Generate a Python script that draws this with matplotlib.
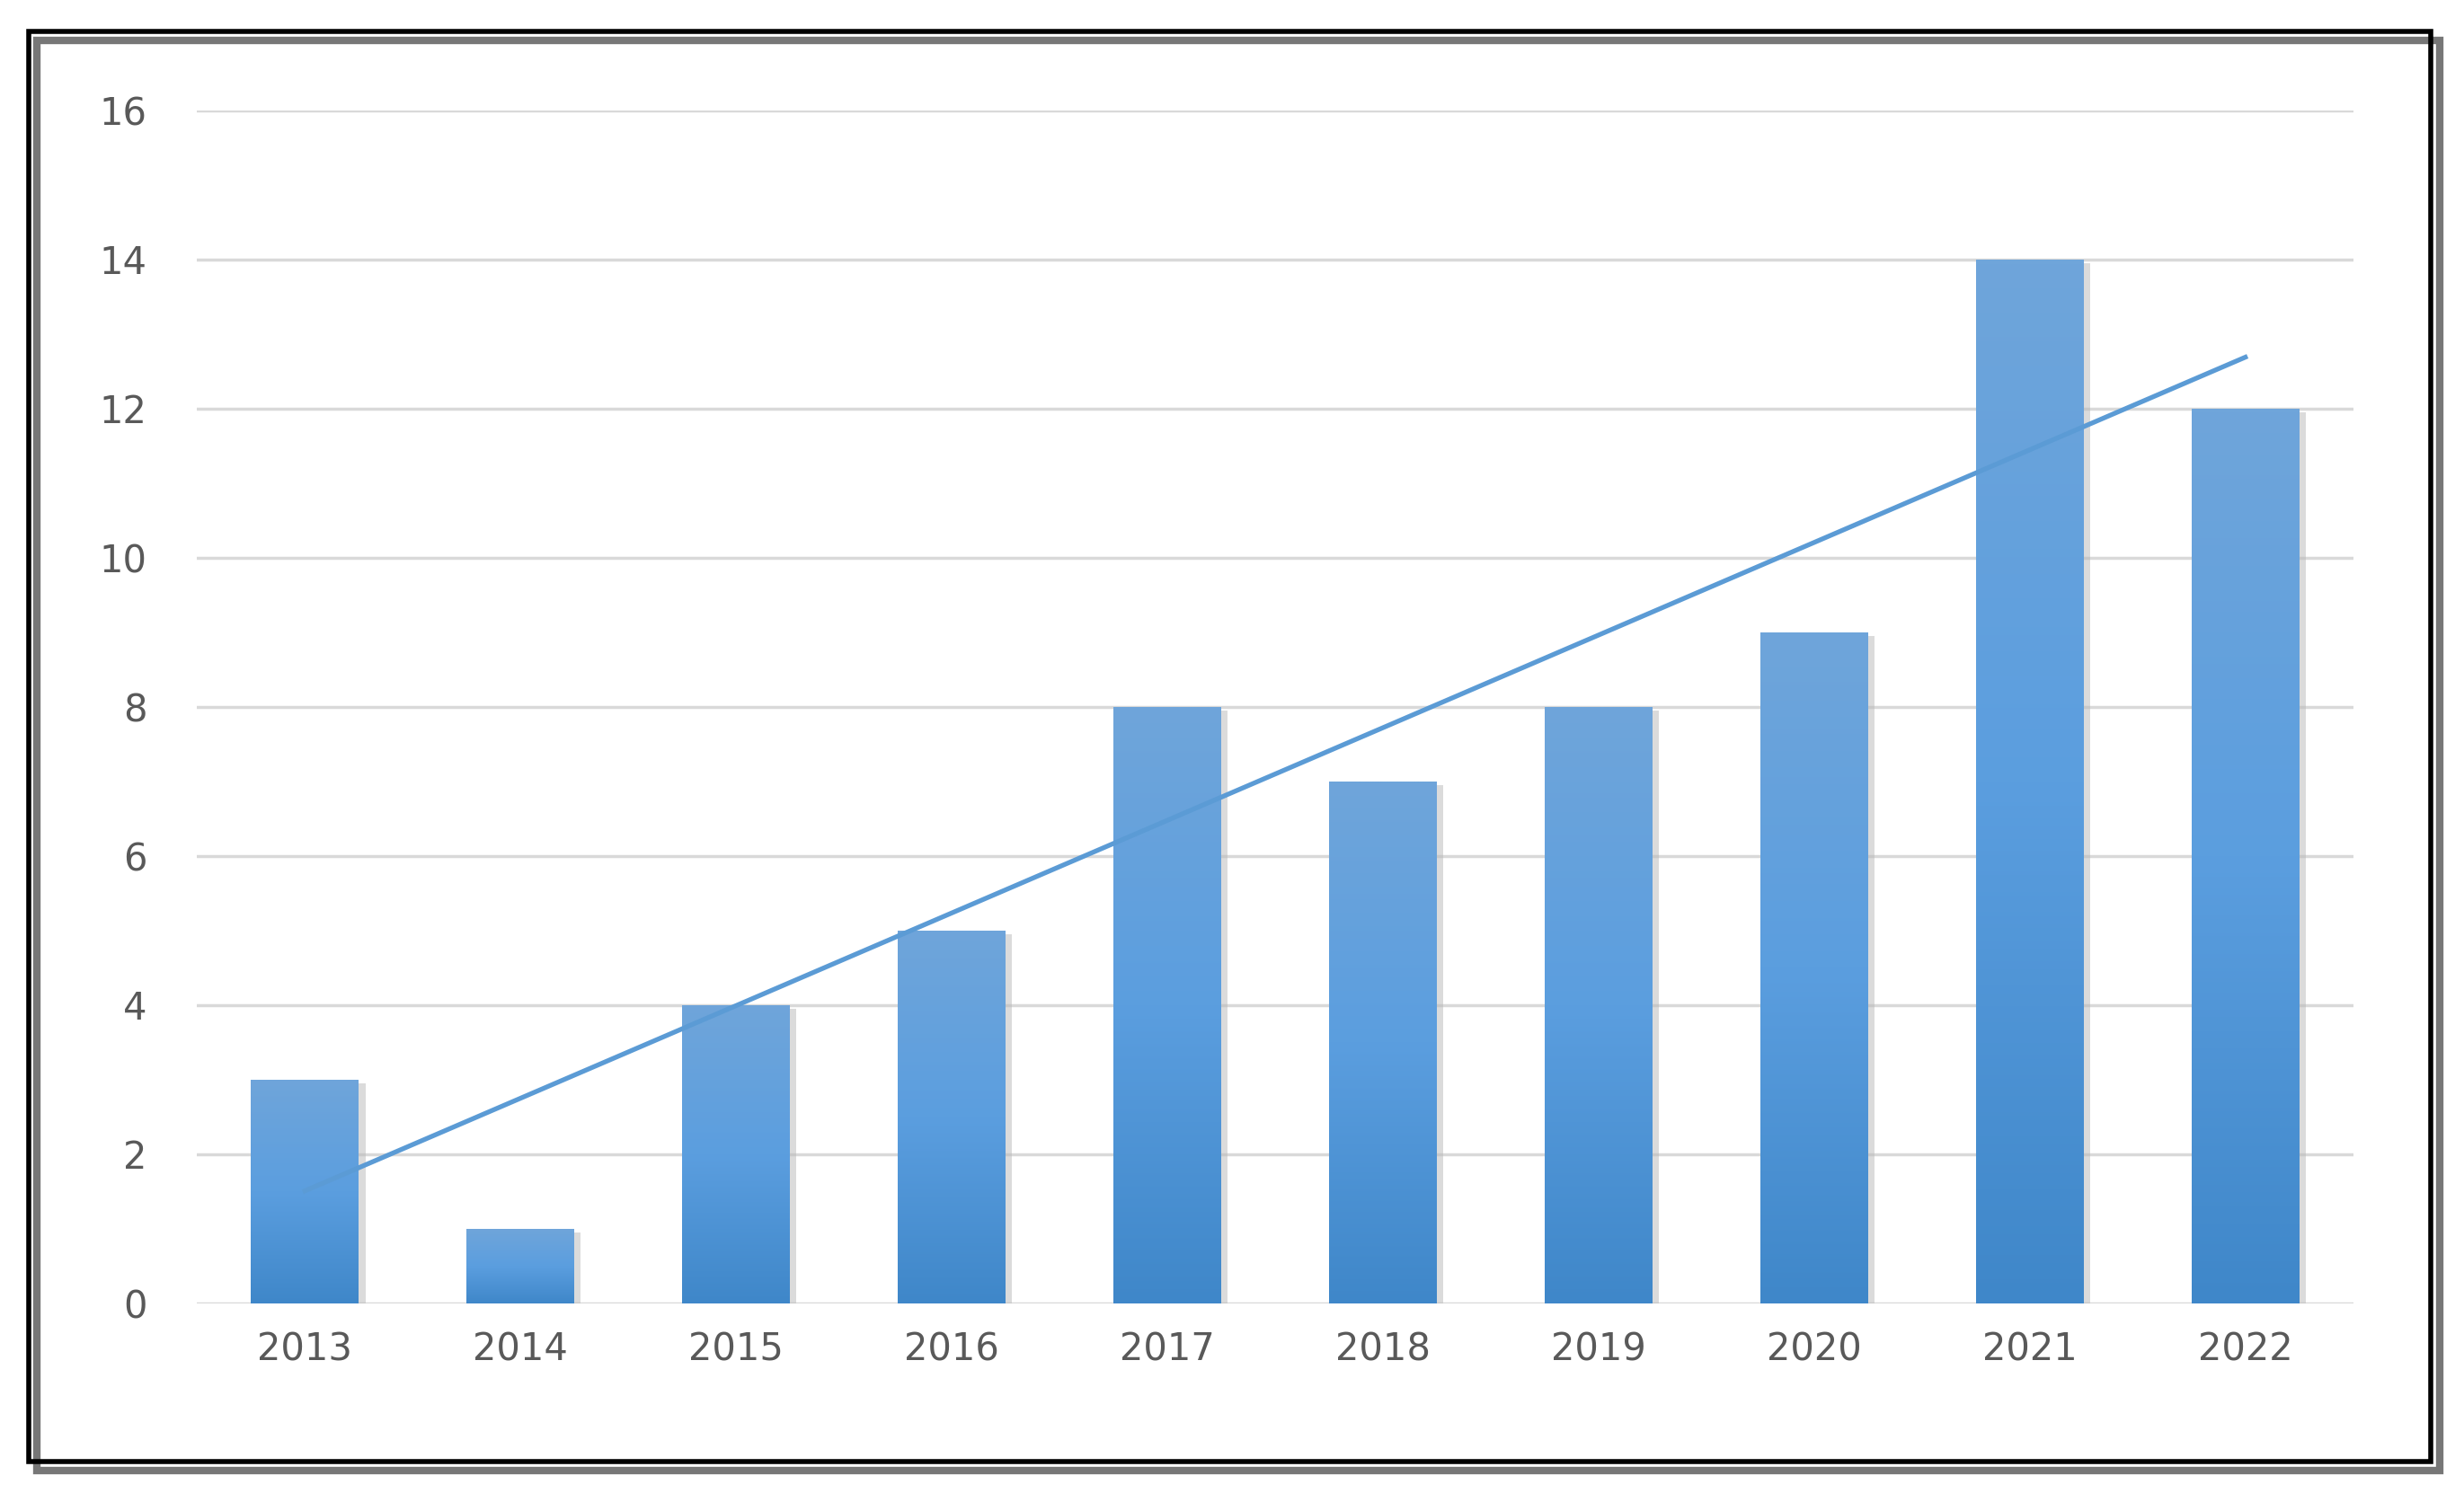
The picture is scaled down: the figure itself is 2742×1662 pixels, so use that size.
import matplotlib
matplotlib.use("Agg")
from matplotlib import pyplot as plt
from matplotlib.patches import Rectangle
import numpy as np

years = ["2013", "2014", "2015", "2016", "2017", "2018", "2019", "2020", "2021", "2022"]
counts = [3, 1, 4, 5, 8, 7, 8, 9, 14, 12]

fig = plt.figure(figsize=(27.42, 16.62), dpi=100)
ax = fig.add_axes([0.080, 0.127, 0.875, 0.799])

x = np.arange(len(years))
bars = ax.bar(x, counts, width=0.5, color="none", zorder=3)

# vertical gradient inside each bar, lighter at the top
grad = np.linspace(0, 1, 256).reshape(-1, 1)
cmap = matplotlib.colors.LinearSegmentedColormap.from_list("g", ["#3f87c9", "#5b9edf", "#6fa5da"])
for b in bars:
    bx, by = b.get_x(), b.get_y()
    w, h = b.get_width(), b.get_height()
    # soft shadow
    ax.add_patch(Rectangle((bx + 0.03, by), w, h - 0.05, color="#b8b8b8", alpha=0.5, zorder=2, lw=0))
    im = ax.imshow(grad, extent=[bx, bx + w, by, by + h], origin="lower", cmap=cmap,
                   aspect="auto", zorder=3)
    im.set_clip_path(b)

# linear trend line
k, c = np.polyfit(x, counts, 1)
ax.plot(x, k * x + c, color="#5b9bd5", lw=3.8, zorder=4)

ax.set_xlim(-0.5, len(years) - 0.5)
ax.set_ylim(0, 16)
ax.set_yticks(range(0, 17, 2))
ax.set_xticks(x)
ax.set_xticklabels(years)
ax.grid(axis="y", color="#d9d9d9", lw=2.5, zorder=0)
ax.set_axisbelow(True)
for s in ax.spines.values():
    s.set_visible(False)
ax.tick_params(length=0, labelsize=30, labelcolor="#595959", pad=22)
ax.tick_params(axis="y", pad=40)

# outer frame with shadow
fig.patches.append(Rectangle((0.015, 0.015), 0.975, 0.958, transform=fig.transFigure,
                             fill=False, ec="#777777", lw=6, zorder=0))
fig.patches.append(Rectangle((0.0115, 0.021), 0.975, 0.958, transform=fig.transFigure,
                             fill=False, ec="black", lw=4, zorder=1))

fig.savefig("out.png", dpi=100)
